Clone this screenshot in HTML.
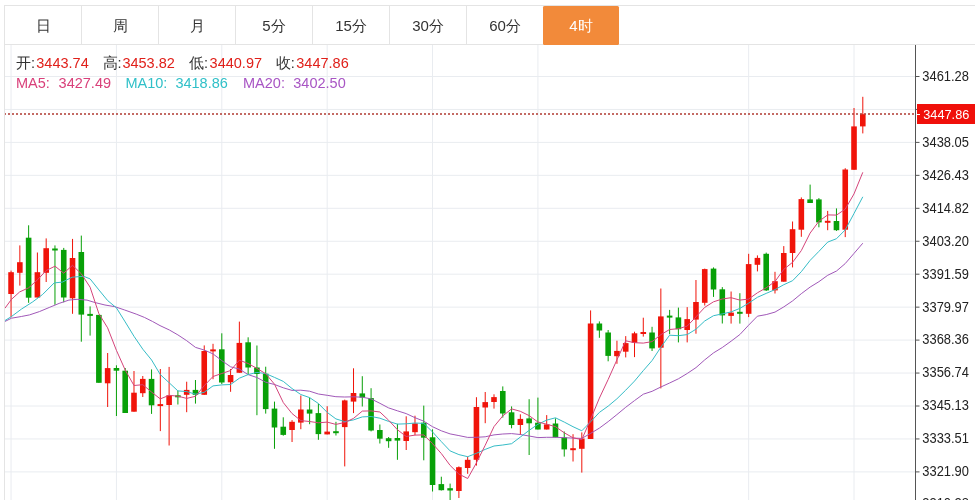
<!DOCTYPE html>
<html><head><meta charset="utf-8"><style>
html,body{margin:0;padding:0;background:#fff;}
body{width:975px;height:500px;overflow:hidden;position:relative;font-family:"Liberation Sans",sans-serif;}
.tb{position:absolute;left:4px;top:5px;width:971px;height:38px;border-top:1px solid #e4e4e4;border-bottom:1px solid #e4e4e4;}
.lb{position:absolute;left:4px;top:6px;width:1px;height:495px;background:#e4e4e4;}
.tab{position:absolute;top:6px;width:76px;height:38px;line-height:40px;text-align:center;font-size:15px;color:#333;border-right:1px solid #e4e4e4;}
.tab.act{left:543px;width:76px;background:#f28a3a;color:#fff;border-right:none;border-radius:1.5px;top:6px;height:38.5px;}
.hs{position:absolute;font-size:14.5px;line-height:17px;white-space:pre;}
.k{color:#333} .v{color:#e0201a}
</style></head><body><div id="w" style="position:absolute;left:0;top:0;width:975px;height:500px;overflow:hidden;background:#fff;filter:blur(0.3px)">
<svg width="975" height="500" viewBox="0 0 975 500" style="position:absolute;left:0;top:0"><defs><clipPath id="cp"><rect x="5" y="44" width="910.5" height="456"/></clipPath></defs><g stroke="#e9ecf0" stroke-width="1" fill="none"><line x1="5" y1="76.5" x2="915.5" y2="76.5"/><line x1="5" y1="109.45" x2="915.5" y2="109.45"/><line x1="5" y1="142.4" x2="915.5" y2="142.4"/><line x1="5" y1="175.35" x2="915.5" y2="175.35"/><line x1="5" y1="208.3" x2="915.5" y2="208.3"/><line x1="5" y1="241.25" x2="915.5" y2="241.25"/><line x1="5" y1="274.2" x2="915.5" y2="274.2"/><line x1="5" y1="307.15" x2="915.5" y2="307.15"/><line x1="5" y1="340.1" x2="915.5" y2="340.1"/><line x1="5" y1="373.05" x2="915.5" y2="373.05"/><line x1="5" y1="406.0" x2="915.5" y2="406.0"/><line x1="5" y1="438.95" x2="915.5" y2="438.95"/><line x1="5" y1="471.9" x2="915.5" y2="471.9"/><line x1="5" y1="504.85" x2="915.5" y2="504.85"/><line x1="11.06" y1="44" x2="11.06" y2="500"/><line x1="116.43" y1="44" x2="116.43" y2="500"/><line x1="221.8" y1="44" x2="221.8" y2="500"/><line x1="327.17" y1="44" x2="327.17" y2="500"/><line x1="432.54" y1="44" x2="432.54" y2="500"/><line x1="537.91" y1="44" x2="537.91" y2="500"/><line x1="748.65" y1="44" x2="748.65" y2="500"/><line x1="854.02" y1="44" x2="854.02" y2="500"/></g><g clip-path="url(#cp)"><rect x="10.56" y="270.6" width="1" height="46.8" fill="#f0140a"/><rect x="8.26" y="272.2" width="5.6" height="21.8" fill="#f0140a"/><rect x="19.34" y="245.4" width="1" height="40.2" fill="#f0140a"/><rect x="17.04" y="262.2" width="5.6" height="10.6" fill="#f0140a"/><rect x="28.12" y="225.3" width="1" height="77.5" fill="#08a008"/><rect x="25.82" y="237.7" width="5.6" height="60.0" fill="#08a008"/><rect x="36.90" y="252.5" width="1" height="45.0" fill="#f0140a"/><rect x="34.60" y="272.2" width="5.6" height="25.3" fill="#f0140a"/><rect x="45.68" y="238.4" width="1" height="43.6" fill="#f0140a"/><rect x="43.38" y="248.2" width="5.6" height="24.6" fill="#f0140a"/><rect x="54.46" y="245.4" width="1" height="59.4" fill="#08a008"/><rect x="52.16" y="248.5" width="5.6" height="2.0" fill="#08a008"/><rect x="63.24" y="247.9" width="1" height="54.4" fill="#08a008"/><rect x="60.94" y="249.9" width="5.6" height="47.6" fill="#08a008"/><rect x="72.03" y="238.9" width="1" height="74.9" fill="#f0140a"/><rect x="69.73" y="258.0" width="5.6" height="40.3" fill="#f0140a"/><rect x="80.81" y="235.6" width="1" height="106.1" fill="#08a008"/><rect x="78.51" y="252.0" width="5.6" height="62.6" fill="#08a008"/><rect x="89.59" y="306.4" width="1" height="29.2" fill="#08a008"/><rect x="87.29" y="313.9" width="5.6" height="2.0" fill="#08a008"/><rect x="98.37" y="314.9" width="1" height="67.9" fill="#08a008"/><rect x="96.07" y="314.9" width="5.6" height="67.9" fill="#08a008"/><rect x="107.15" y="353.0" width="1" height="54.0" fill="#f0140a"/><rect x="104.85" y="368.1" width="5.6" height="15.2" fill="#f0140a"/><rect x="115.93" y="365.3" width="1" height="50.7" fill="#08a008"/><rect x="113.63" y="368.0" width="5.6" height="2.7" fill="#08a008"/><rect x="124.71" y="368.0" width="1" height="45.0" fill="#08a008"/><rect x="122.41" y="370.7" width="5.6" height="42.3" fill="#08a008"/><rect x="133.49" y="371.0" width="1" height="40.7" fill="#f0140a"/><rect x="131.19" y="392.7" width="5.6" height="19.0" fill="#f0140a"/><rect x="142.27" y="376.0" width="1" height="21.0" fill="#f0140a"/><rect x="139.97" y="378.9" width="5.6" height="14.3" fill="#f0140a"/><rect x="151.05" y="369.4" width="1" height="44.5" fill="#08a008"/><rect x="148.75" y="378.9" width="5.6" height="26.4" fill="#08a008"/><rect x="159.83" y="369.0" width="1" height="62.1" fill="#f0140a"/><rect x="157.53" y="404.1" width="5.6" height="2.0" fill="#f0140a"/><rect x="168.61" y="366.9" width="1" height="78.6" fill="#f0140a"/><rect x="166.31" y="395.3" width="5.6" height="9.7" fill="#f0140a"/><rect x="177.40" y="390.7" width="1" height="13.8" fill="#08a008"/><rect x="175.10" y="395.3" width="5.6" height="2.0" fill="#08a008"/><rect x="186.18" y="381.7" width="1" height="30.5" fill="#f0140a"/><rect x="183.88" y="389.9" width="5.6" height="4.9" fill="#f0140a"/><rect x="194.96" y="380.0" width="1" height="23.6" fill="#08a008"/><rect x="192.66" y="389.9" width="5.6" height="4.9" fill="#08a008"/><rect x="203.74" y="345.4" width="1" height="49.4" fill="#f0140a"/><rect x="201.44" y="351.0" width="5.6" height="43.8" fill="#f0140a"/><rect x="212.52" y="343.8" width="1" height="35.4" fill="#f0140a"/><rect x="210.22" y="349.4" width="5.6" height="2.0" fill="#f0140a"/><rect x="221.30" y="333.3" width="1" height="50.7" fill="#08a008"/><rect x="219.00" y="349.3" width="5.6" height="33.2" fill="#08a008"/><rect x="230.08" y="369.0" width="1" height="22.8" fill="#f0140a"/><rect x="227.78" y="375.0" width="5.6" height="7.3" fill="#f0140a"/><rect x="238.86" y="321.6" width="1" height="51.2" fill="#f0140a"/><rect x="236.56" y="342.9" width="5.6" height="29.9" fill="#f0140a"/><rect x="247.64" y="337.3" width="1" height="37.6" fill="#08a008"/><rect x="245.34" y="342.3" width="5.6" height="25.2" fill="#08a008"/><rect x="256.42" y="345.5" width="1" height="69.7" fill="#08a008"/><rect x="254.12" y="367.5" width="5.6" height="6.5" fill="#08a008"/><rect x="265.20" y="366.7" width="1" height="46.9" fill="#08a008"/><rect x="262.90" y="373.7" width="5.6" height="35.4" fill="#08a008"/><rect x="273.98" y="401.6" width="1" height="47.2" fill="#08a008"/><rect x="271.68" y="408.6" width="5.6" height="18.9" fill="#08a008"/><rect x="282.76" y="417.3" width="1" height="18.4" fill="#08a008"/><rect x="280.46" y="426.7" width="5.6" height="8.2" fill="#08a008"/><rect x="291.55" y="420.1" width="1" height="21.9" fill="#f0140a"/><rect x="289.25" y="421.8" width="5.6" height="8.2" fill="#f0140a"/><rect x="300.33" y="395.5" width="1" height="33.7" fill="#f0140a"/><rect x="298.03" y="409.5" width="5.6" height="13.1" fill="#f0140a"/><rect x="309.11" y="397.6" width="1" height="26.6" fill="#08a008"/><rect x="306.81" y="409.5" width="5.6" height="4.1" fill="#08a008"/><rect x="317.89" y="403.7" width="1" height="36.1" fill="#08a008"/><rect x="315.59" y="413.1" width="5.6" height="21.0" fill="#08a008"/><rect x="326.67" y="406.2" width="1" height="28.2" fill="#f0140a"/><rect x="324.37" y="431.6" width="5.6" height="2.8" fill="#f0140a"/><rect x="335.45" y="421.8" width="1" height="13.7" fill="#08a008"/><rect x="333.15" y="431.2" width="5.6" height="2.0" fill="#08a008"/><rect x="344.23" y="399.6" width="1" height="66.8" fill="#f0140a"/><rect x="341.93" y="400.4" width="5.6" height="26.7" fill="#f0140a"/><rect x="353.01" y="368.3" width="1" height="44.8" fill="#f0140a"/><rect x="350.71" y="393.0" width="5.6" height="8.6" fill="#f0140a"/><rect x="361.79" y="376.2" width="1" height="30.3" fill="#08a008"/><rect x="359.49" y="393.4" width="5.6" height="4.2" fill="#08a008"/><rect x="370.57" y="388.2" width="1" height="43.2" fill="#08a008"/><rect x="368.27" y="398.1" width="5.6" height="32.4" fill="#08a008"/><rect x="379.35" y="424.5" width="1" height="19.0" fill="#08a008"/><rect x="377.05" y="430.0" width="5.6" height="8.7" fill="#08a008"/><rect x="388.13" y="437.0" width="1" height="10.8" fill="#08a008"/><rect x="385.83" y="438.2" width="5.6" height="3.0" fill="#08a008"/><rect x="396.92" y="423.8" width="1" height="36.0" fill="#08a008"/><rect x="394.62" y="438.0" width="5.6" height="2.6" fill="#08a008"/><rect x="405.70" y="416.3" width="1" height="33.7" fill="#f0140a"/><rect x="403.40" y="431.4" width="5.6" height="9.6" fill="#f0140a"/><rect x="414.48" y="415.7" width="1" height="19.5" fill="#f0140a"/><rect x="412.18" y="423.4" width="5.6" height="8.8" fill="#f0140a"/><rect x="423.26" y="405.6" width="1" height="54.7" fill="#08a008"/><rect x="420.96" y="422.7" width="5.6" height="15.0" fill="#08a008"/><rect x="432.04" y="429.3" width="1" height="62.2" fill="#08a008"/><rect x="429.74" y="437.3" width="5.6" height="47.7" fill="#08a008"/><rect x="440.82" y="476.7" width="1" height="13.8" fill="#08a008"/><rect x="438.52" y="484.1" width="5.6" height="6.1" fill="#08a008"/><rect x="449.60" y="483.6" width="1" height="18.4" fill="#08a008"/><rect x="447.30" y="488.2" width="5.6" height="2.3" fill="#08a008"/><rect x="458.38" y="466.4" width="1" height="31.6" fill="#f0140a"/><rect x="456.08" y="467.2" width="5.6" height="23.8" fill="#f0140a"/><rect x="467.16" y="456.6" width="1" height="17.2" fill="#f0140a"/><rect x="464.86" y="459.8" width="5.6" height="8.2" fill="#f0140a"/><rect x="475.94" y="397.2" width="1" height="68.4" fill="#f0140a"/><rect x="473.64" y="407.0" width="5.6" height="52.8" fill="#f0140a"/><rect x="484.72" y="392.0" width="1" height="31.2" fill="#f0140a"/><rect x="482.42" y="402.1" width="5.6" height="5.4" fill="#f0140a"/><rect x="493.50" y="394.3" width="1" height="14.3" fill="#f0140a"/><rect x="491.20" y="397.1" width="5.6" height="4.9" fill="#f0140a"/><rect x="502.28" y="386.4" width="1" height="31.2" fill="#08a008"/><rect x="499.98" y="391.0" width="5.6" height="22.5" fill="#08a008"/><rect x="511.07" y="406.4" width="1" height="21.9" fill="#08a008"/><rect x="508.77" y="412.3" width="5.6" height="12.7" fill="#08a008"/><rect x="519.85" y="414.3" width="1" height="20.5" fill="#f0140a"/><rect x="517.55" y="418.9" width="5.6" height="6.1" fill="#f0140a"/><rect x="528.63" y="399.2" width="1" height="55.8" fill="#08a008"/><rect x="526.33" y="418.4" width="5.6" height="4.9" fill="#08a008"/><rect x="537.41" y="397.6" width="1" height="31.9" fill="#08a008"/><rect x="535.11" y="422.7" width="5.6" height="6.8" fill="#08a008"/><rect x="546.19" y="415.1" width="1" height="14.4" fill="#f0140a"/><rect x="543.89" y="424.4" width="5.6" height="5.1" fill="#f0140a"/><rect x="554.97" y="418.4" width="1" height="19.0" fill="#08a008"/><rect x="552.67" y="423.5" width="5.6" height="13.9" fill="#08a008"/><rect x="563.75" y="431.5" width="1" height="25.1" fill="#08a008"/><rect x="561.45" y="437.4" width="5.6" height="12.0" fill="#08a008"/><rect x="572.53" y="434.2" width="1" height="27.3" fill="#f0140a"/><rect x="570.23" y="448.2" width="5.6" height="2.0" fill="#f0140a"/><rect x="581.31" y="432.4" width="1" height="40.2" fill="#f0140a"/><rect x="579.01" y="438.5" width="5.6" height="10.3" fill="#f0140a"/><rect x="590.09" y="310.4" width="1" height="128.6" fill="#f0140a"/><rect x="587.79" y="323.5" width="5.6" height="115.5" fill="#f0140a"/><rect x="598.87" y="321.4" width="1" height="16.4" fill="#08a008"/><rect x="596.57" y="323.5" width="5.6" height="7.0" fill="#08a008"/><rect x="607.65" y="330.0" width="1" height="31.3" fill="#08a008"/><rect x="605.35" y="332.5" width="5.6" height="23.4" fill="#08a008"/><rect x="616.44" y="340.7" width="1" height="23.1" fill="#f0140a"/><rect x="614.14" y="350.9" width="5.6" height="5.3" fill="#f0140a"/><rect x="625.22" y="336.1" width="1" height="21.3" fill="#f0140a"/><rect x="622.92" y="343.1" width="5.6" height="8.6" fill="#f0140a"/><rect x="634.00" y="331.7" width="1" height="25.4" fill="#f0140a"/><rect x="631.70" y="333.3" width="5.6" height="9.5" fill="#f0140a"/><rect x="642.78" y="317.7" width="1" height="18.9" fill="#f0140a"/><rect x="640.48" y="332.0" width="5.6" height="2.0" fill="#f0140a"/><rect x="651.56" y="326.8" width="1" height="24.2" fill="#08a008"/><rect x="649.26" y="332.5" width="5.6" height="15.9" fill="#08a008"/><rect x="660.34" y="288.5" width="1" height="99.9" fill="#f0140a"/><rect x="658.04" y="316.4" width="5.6" height="31.3" fill="#f0140a"/><rect x="669.12" y="309.9" width="1" height="24.3" fill="#08a008"/><rect x="666.82" y="315.6" width="5.6" height="2.0" fill="#08a008"/><rect x="677.90" y="307.6" width="1" height="34.8" fill="#08a008"/><rect x="675.60" y="317.4" width="5.6" height="11.8" fill="#08a008"/><rect x="686.68" y="307.1" width="1" height="35.3" fill="#f0140a"/><rect x="684.38" y="319.1" width="5.6" height="10.9" fill="#f0140a"/><rect x="695.46" y="280.0" width="1" height="53.7" fill="#f0140a"/><rect x="693.16" y="302.0" width="5.6" height="17.6" fill="#f0140a"/><rect x="704.24" y="268.6" width="1" height="36.9" fill="#f0140a"/><rect x="701.94" y="269.1" width="5.6" height="33.7" fill="#f0140a"/><rect x="713.02" y="267.4" width="1" height="29.5" fill="#08a008"/><rect x="710.72" y="268.6" width="5.6" height="20.9" fill="#08a008"/><rect x="721.80" y="287.1" width="1" height="36.4" fill="#08a008"/><rect x="719.50" y="289.3" width="5.6" height="26.1" fill="#08a008"/><rect x="730.59" y="291.5" width="1" height="32.1" fill="#f0140a"/><rect x="728.29" y="312.6" width="5.6" height="3.3" fill="#f0140a"/><rect x="739.37" y="293.2" width="1" height="30.4" fill="#08a008"/><rect x="737.07" y="311.8" width="5.6" height="2.0" fill="#08a008"/><rect x="748.15" y="253.8" width="1" height="63.3" fill="#f0140a"/><rect x="745.85" y="264.1" width="5.6" height="49.7" fill="#f0140a"/><rect x="756.93" y="255.4" width="1" height="16.0" fill="#f0140a"/><rect x="754.63" y="257.9" width="5.6" height="6.9" fill="#f0140a"/><rect x="765.71" y="252.6" width="1" height="38.4" fill="#08a008"/><rect x="763.41" y="253.8" width="5.6" height="36.6" fill="#08a008"/><rect x="774.49" y="271.8" width="1" height="21.7" fill="#f0140a"/><rect x="772.19" y="281.2" width="5.6" height="9.2" fill="#f0140a"/><rect x="783.27" y="246.1" width="1" height="35.6" fill="#f0140a"/><rect x="780.97" y="253.0" width="5.6" height="28.7" fill="#f0140a"/><rect x="792.05" y="221.5" width="1" height="45.9" fill="#f0140a"/><rect x="789.75" y="229.2" width="5.6" height="23.8" fill="#f0140a"/><rect x="800.83" y="197.4" width="1" height="39.4" fill="#f0140a"/><rect x="798.53" y="199.1" width="5.6" height="30.6" fill="#f0140a"/><rect x="809.61" y="184.6" width="1" height="18.4" fill="#08a008"/><rect x="807.31" y="199.4" width="5.6" height="3.6" fill="#08a008"/><rect x="818.39" y="198.1" width="1" height="29.2" fill="#08a008"/><rect x="816.09" y="199.4" width="5.6" height="23.0" fill="#08a008"/><rect x="827.17" y="210.9" width="1" height="19.3" fill="#f0140a"/><rect x="824.87" y="220.8" width="5.6" height="2.0" fill="#f0140a"/><rect x="835.96" y="208.4" width="1" height="22.5" fill="#08a008"/><rect x="833.66" y="221.0" width="5.6" height="9.2" fill="#08a008"/><rect x="844.74" y="168.2" width="1" height="68.9" fill="#f0140a"/><rect x="842.44" y="169.5" width="5.6" height="60.2" fill="#f0140a"/><rect x="853.52" y="108.0" width="1" height="61.8" fill="#f0140a"/><rect x="851.22" y="126.4" width="5.6" height="43.4" fill="#f0140a"/><rect x="862.30" y="96.8" width="1" height="36.6" fill="#f0140a"/><rect x="860.00" y="114.2" width="5.6" height="12.2" fill="#f0140a"/></g><g clip-path="url(#cp)"><path d="M4.9,321.5 L11.5,318.2 L21.3,316.5 L29.5,314.9 L39.4,311.6 L49.2,307.5 L59.1,303.4 L68.9,300.1 L77.1,299.3 L87.0,300.1 L95.2,302.6 L105.0,305.0 L114.9,306.7 L124.7,310.0 L136.2,314.1 L144.4,317.4 L152.6,321.5 L160.0,325.6 L169.4,330.0 L177.9,334.9 L186.7,340.7 L195.5,347.4 L204.2,350.0 L213.0,353.9 L221.8,360.6 L230.6,366.8 L239.4,369.1 L248.1,374.6 L256.9,377.5 L265.7,382.2 L274.5,384.5 L283.3,387.8 L292.0,390.4 L300.8,390.2 L309.6,391.2 L318.4,394.0 L327.2,395.3 L335.9,396.7 L344.7,397.0 L353.5,396.8 L362.3,397.2 L371.1,398.9 L379.9,403.3 L388.6,407.9 L397.4,410.8 L406.2,413.6 L415.0,417.7 L423.8,421.2 L432.5,426.7 L441.3,430.8 L450.1,433.9 L458.9,435.6 L467.7,437.4 L476.4,437.3 L485.2,436.8 L494.0,434.9 L502.8,434.0 L511.6,433.6 L520.3,434.5 L529.1,436.0 L537.9,437.6 L546.7,437.3 L555.5,437.3 L564.3,437.7 L573.0,438.1 L581.8,438.4 L590.6,433.4 L599.4,428.1 L608.2,421.6 L616.9,414.6 L625.7,407.3 L634.5,400.6 L643.3,394.2 L652.1,391.3 L660.8,387.0 L669.6,383.0 L678.4,378.8 L687.2,373.5 L696.0,367.6 L704.7,359.9 L713.5,352.9 L722.3,347.5 L731.1,341.2 L739.9,334.5 L748.6,325.2 L757.4,316.2 L766.2,314.6 L775.0,312.1 L783.8,306.9 L792.6,300.9 L801.3,293.7 L810.1,287.1 L818.9,281.7 L827.7,275.3 L836.5,271.0 L845.2,263.6 L854.0,253.4 L862.8,243.2" fill="none" stroke="#a058b8" stroke-width="1" stroke-linejoin="round"/><path d="M4.9,320.6 L11.5,316.5 L21.3,309.2 L32.8,301.8 L42.7,294.4 L54.2,282.9 L62.4,282.1 L72.2,277.2 L83.7,276.3 L90.1,278.9 L98.9,289.9 L107.6,300.5 L116.4,307.8 L125.2,321.9 L134.0,336.3 L142.8,349.2 L151.6,360.0 L160.3,374.6 L169.1,382.7 L177.9,390.9 L186.7,391.6 L195.5,394.2 L204.2,392.3 L213.0,385.9 L221.8,384.9 L230.6,384.5 L239.4,378.2 L248.1,374.6 L256.9,372.4 L265.7,373.6 L274.5,377.4 L283.3,381.4 L292.0,388.5 L300.8,394.5 L309.6,397.6 L318.4,403.5 L327.2,412.4 L335.9,418.9 L344.7,421.6 L353.5,419.9 L362.3,416.9 L371.1,416.5 L379.9,418.2 L388.6,421.4 L397.4,424.1 L406.2,423.8 L415.0,423.0 L423.8,423.4 L432.5,431.9 L441.3,441.6 L450.1,450.9 L458.9,454.6 L467.7,456.7 L476.4,453.3 L485.2,449.4 L494.0,446.0 L502.8,445.0 L511.6,443.7 L520.3,437.1 L529.1,430.4 L537.9,424.3 L546.7,420.1 L555.5,417.8 L564.3,422.1 L573.0,426.7 L581.8,430.8 L590.6,421.8 L599.4,412.4 L608.2,406.1 L616.9,398.8 L625.7,390.2 L634.5,381.1 L643.3,370.6 L652.1,360.5 L660.8,347.3 L669.6,335.2 L678.4,335.7 L687.2,334.6 L696.0,329.2 L704.7,321.0 L713.5,315.7 L722.3,313.9 L731.1,311.9 L739.9,308.4 L748.6,303.2 L757.4,297.3 L766.2,293.4 L775.0,289.6 L783.8,284.7 L792.6,280.7 L801.3,271.7 L810.1,260.4 L818.9,251.4 L827.7,242.1 L836.5,238.7 L845.2,229.9 L854.0,213.5 L862.8,196.8" fill="none" stroke="#36bcc6" stroke-width="1" stroke-linejoin="round"/><path d="M4.9,308.3 L11.5,299.3 L19.7,291.9 L28.7,287.8 L37.7,279.6 L46.2,270.5 L55.0,266.2 L63.7,273.2 L72.5,265.3 L81.3,273.8 L90.1,287.2 L98.9,313.7 L107.6,327.8 L116.4,350.3 L125.2,370.0 L134.0,385.5 L142.8,384.7 L151.6,392.1 L160.3,398.9 L169.1,395.3 L177.9,396.2 L186.7,398.4 L195.5,396.3 L204.2,385.7 L213.0,376.5 L221.8,373.5 L230.6,370.5 L239.4,360.2 L248.1,363.5 L256.9,368.4 L265.7,373.7 L274.5,384.2 L283.3,402.6 L292.0,413.5 L300.8,420.6 L309.6,421.5 L318.4,422.8 L327.2,422.1 L335.9,424.4 L344.7,422.5 L353.5,418.4 L362.3,411.1 L371.1,410.9 L379.9,412.0 L388.6,420.2 L397.4,429.7 L406.2,436.5 L415.0,435.1 L423.8,434.9 L432.5,443.6 L441.3,453.5 L450.1,465.4 L458.9,474.1 L467.7,478.5 L476.4,462.9 L485.2,445.3 L494.0,426.6 L502.8,415.9 L511.6,408.9 L520.3,411.3 L529.1,415.6 L537.9,422.0 L546.7,424.2 L555.5,426.7 L564.3,432.8 L573.0,437.8 L581.8,439.6 L590.6,419.4 L599.4,398.1 L608.2,379.4 L616.9,359.9 L625.7,340.8 L634.5,342.7 L643.3,343.1 L652.1,341.6 L660.8,334.7 L669.6,329.5 L678.4,328.7 L687.2,326.1 L696.0,316.8 L704.7,307.4 L713.5,301.8 L722.3,299.0 L731.1,297.7 L739.9,300.1 L748.6,299.1 L757.4,292.8 L766.2,287.8 L775.0,281.5 L783.8,269.3 L792.6,262.3 L801.3,250.6 L810.1,233.1 L818.9,221.3 L827.7,214.9 L836.5,215.1 L845.2,209.2 L854.0,193.9 L862.8,172.3" fill="none" stroke="#d4447a" stroke-width="1" stroke-linejoin="round"/></g><line x1="5" y1="114" x2="915.5" y2="114" stroke="#b03a32" stroke-width="1.3" stroke-dasharray="2,2" stroke-dashoffset="1"/><line x1="915.5" y1="44" x2="915.5" y2="500" stroke="#555" stroke-width="1"/><g stroke="#555" stroke-width="1"><line x1="915.5" y1="76.5" x2="919.5" y2="76.5"/><line x1="915.5" y1="109.45" x2="919.5" y2="109.45"/><line x1="915.5" y1="142.4" x2="919.5" y2="142.4"/><line x1="915.5" y1="175.35" x2="919.5" y2="175.35"/><line x1="915.5" y1="208.3" x2="919.5" y2="208.3"/><line x1="915.5" y1="241.25" x2="919.5" y2="241.25"/><line x1="915.5" y1="274.2" x2="919.5" y2="274.2"/><line x1="915.5" y1="307.15" x2="919.5" y2="307.15"/><line x1="915.5" y1="340.1" x2="919.5" y2="340.1"/><line x1="915.5" y1="373.05" x2="919.5" y2="373.05"/><line x1="915.5" y1="406.0" x2="919.5" y2="406.0"/><line x1="915.5" y1="438.95" x2="919.5" y2="438.95"/><line x1="915.5" y1="471.9" x2="919.5" y2="471.9"/><line x1="915.5" y1="504.85" x2="919.5" y2="504.85"/></g><g font-family="Liberation Sans, sans-serif" font-size="14" fill="#222"><text x="922.3" y="80.8" textLength="46.6" lengthAdjust="spacingAndGlyphs">3461.28</text><text x="922.3" y="146.7" textLength="46.6" lengthAdjust="spacingAndGlyphs">3438.05</text><text x="922.3" y="179.7" textLength="46.6" lengthAdjust="spacingAndGlyphs">3426.43</text><text x="922.3" y="212.6" textLength="46.6" lengthAdjust="spacingAndGlyphs">3414.82</text><text x="922.3" y="245.6" textLength="46.6" lengthAdjust="spacingAndGlyphs">3403.20</text><text x="922.3" y="278.5" textLength="46.6" lengthAdjust="spacingAndGlyphs">3391.59</text><text x="922.3" y="311.5" textLength="46.6" lengthAdjust="spacingAndGlyphs">3379.97</text><text x="922.3" y="344.4" textLength="46.6" lengthAdjust="spacingAndGlyphs">3368.36</text><text x="922.3" y="377.4" textLength="46.6" lengthAdjust="spacingAndGlyphs">3356.74</text><text x="922.3" y="410.3" textLength="46.6" lengthAdjust="spacingAndGlyphs">3345.13</text><text x="922.3" y="443.3" textLength="46.6" lengthAdjust="spacingAndGlyphs">3333.51</text><text x="922.3" y="476.2" textLength="46.6" lengthAdjust="spacingAndGlyphs">3321.90</text><text x="922.3" y="508.0" textLength="46.6" lengthAdjust="spacingAndGlyphs">3310.28</text></g><rect x="917" y="104" width="58" height="20" fill="#f0100a"/><line x1="917" y1="114.5" x2="920" y2="114.5" stroke="#fff" stroke-width="1"/><text x="923.3" y="119.3" font-family="Liberation Sans, sans-serif" font-size="13.6" fill="#fff" textLength="46" lengthAdjust="spacingAndGlyphs">3447.86</text></svg>
<div class="tb"></div><div class="lb"></div>
<div class="tab" style="left:5px">日</div><div class="tab" style="left:82px">周</div><div class="tab" style="left:159px">月</div><div class="tab" style="left:236px">5分</div><div class="tab" style="left:313px">15分</div><div class="tab" style="left:390px">30分</div><div class="tab" style="left:467px">60分</div><div class="tab act">4时</div>
<span class="hs" style="left:16px;top:54.5px;color:#333">开:</span><span class="hs" style="left:36.3px;top:54.5px;color:#e0201a">3443.74</span><span class="hs" style="left:102.5px;top:54.5px;color:#333">高:</span><span class="hs" style="left:122.4px;top:54.5px;color:#e0201a">3453.82</span><span class="hs" style="left:189px;top:54.5px;color:#333">低:</span><span class="hs" style="left:209.6px;top:54.5px;color:#e0201a">3440.97</span><span class="hs" style="left:275.7px;top:54.5px;color:#333">收:</span><span class="hs" style="left:296.3px;top:54.5px;color:#e0201a">3447.86</span><span class="hs" style="left:16px;top:74.5px;color:#d9407a">MA5:</span><span class="hs" style="left:58.6px;top:74.5px;color:#d9407a">3427.49</span><span class="hs" style="left:125.4px;top:74.5px;color:#30c0c8">MA10:</span><span class="hs" style="left:175.4px;top:74.5px;color:#30c0c8">3418.86</span><span class="hs" style="left:243px;top:74.5px;color:#a855c4">MA20:</span><span class="hs" style="left:293.3px;top:74.5px;color:#a855c4">3402.50</span>
</div></body></html>
